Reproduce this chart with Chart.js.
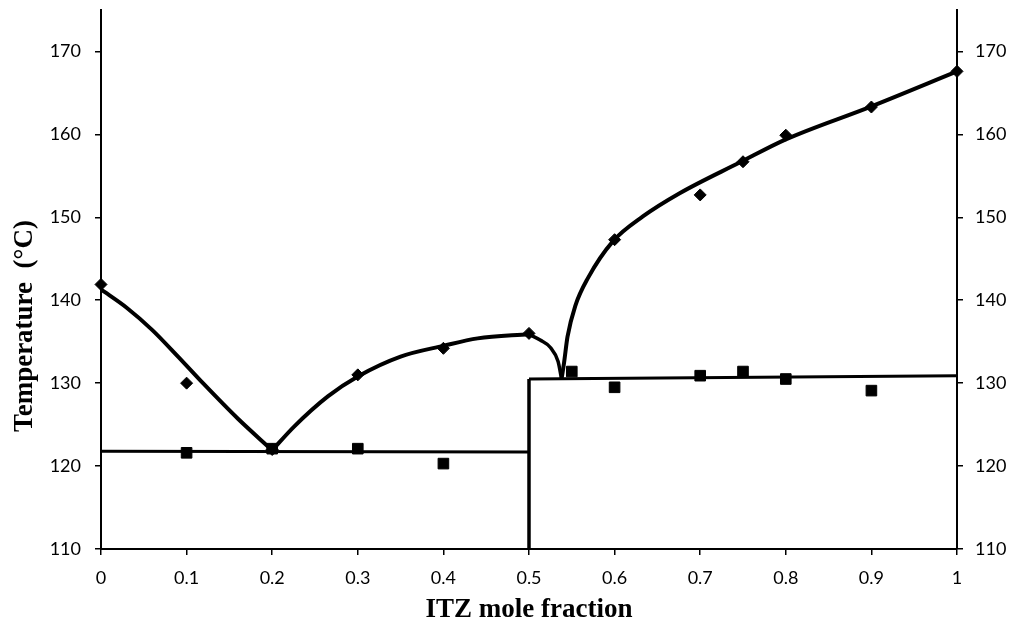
<!DOCTYPE html>
<html>
<head>
<meta charset="utf-8">
<script src="https://cdn.jsdelivr.net/npm/chart.js@4/dist/chart.umd.min.js"></script>
<style>
  html, body { margin: 0; padding: 0; background: #fff; }
  #chart { display: block; }
</style>
</head>
<body>
<canvas id="chart" width="1016" height="626"></canvas>
<script>
// measured points (diamonds = liquidus, squares = solidus)
const liqX = [0, 0.1, 0.2, 0.3, 0.4, 0.5, 0.6, 0.7, 0.75, 0.8, 0.9, 1];
const liqT = [141.9, 130.0, 122.0, 131.0, 134.2, 136.0, 147.3, 152.7, 156.7, 159.9, 163.3, 167.6];

const solX = [0.1, 0.2, 0.3, 0.4, 0.55, 0.6, 0.7, 0.75, 0.8, 0.9];
const solT = [121.6, 122.1, 122.1, 120.3, 131.4, 129.5, 130.9, 131.4, 130.5, 129.1];

// fitted curves
const curveAX = [0, 0.03, 0.06, 0.09, 0.12, 0.16, 0.2];
const curveAT = [141.3, 139.1, 136.4, 133.2, 129.9, 125.7, 121.9];

const curveBX = [0.2, 0.225, 0.265, 0.3, 0.35, 0.4, 0.44, 0.5];
const curveBT = [121.9, 124.7, 128.4, 130.8, 133.2, 134.5, 135.4, 135.9];

const curveCX = [0.5, 0.513, 0.525, 0.534, 0.538];
const curveCT = [135.9, 135.2, 134.3, 132.6, 130.5];

const curveDX = [0.538, 0.541, 0.545, 0.554, 0.569, 0.598, 0.633, 0.676, 0.746, 0.8, 0.898, 1];
const curveDT = [130.5, 132.5, 135.6, 139.3, 142.7, 147.1, 150.1, 152.9, 156.6, 159.4, 163.3, 167.6];

// solidus lines
const solLeftX = [0, 0.5];
const solLeftT = [121.8, 121.7];
const vertX = [0.5, 0.5];
const vertT = [110, 130.5];
const solRightX = [0.5, 1];
const solRightT = [130.5, 130.9];

const yTicks = [110, 120, 130, 140, 150, 160, 170];

function pts(xs, ys) { return xs.map((x, i) => ({ x, y: ys[i] })); }

function curve(xs, ys, w) {
  return {
    type: 'line', data: pts(xs, ys), borderColor: '#000', borderWidth: w,
    pointRadius: 0, cubicInterpolationMode: 'monotone', fill: false, clip: false
  };
}
function straight(xs, ys, w) {
  return {
    type: 'line', data: pts(xs, ys), borderColor: '#000', borderWidth: w,
    pointRadius: 0, tension: 0, fill: false, clip: false
  };
}

// y title drawn by hand so it can sit where the original has it
const yTitle = {
  id: 'yTitle',
  afterDraw(chart) {
    const c = chart.ctx;
    c.save();
    c.translate(25, 326);
    c.rotate(-Math.PI / 2);
    c.font = 'bold 27px "Liberation Serif"';
    c.fillStyle = '#000';
    c.textAlign = 'center';
    c.textBaseline = 'middle';
    c.fillText('Temperature  (°C)', 0, 0);
    c.restore();
  }
};

const tickFont = { family: 'Lato', size: 18 };
const axisCommon = {
  grid: { drawOnChartArea: false, drawTicks: true, tickLength: 6, color: '#000', lineWidth: 1.5 },
  border: { display: true, color: '#000', width: 2 }
};
// no extra room above/below the vertical axes
const yFit = w => s => { s.width = w; s.paddingTop = 0; s.paddingBottom = 0; };

new Chart(document.getElementById('chart'), {
  type: 'scatter',
  data: {
    datasets: [
      curve(curveAX, curveAT, 4),
      curve(curveBX, curveBT, 4),
      curve(curveCX, curveCT, 3.5),
      curve(curveDX, curveDT, 4),
      straight(solLeftX, solLeftT, 3),
      straight(vertX, vertT, 3.5),
      straight(solRightX, solRightT, 3),
      {
        data: pts(liqX, liqT), pointStyle: 'rectRot', pointRadius: 6,
        backgroundColor: '#000', borderColor: '#000', clip: false
      },
      {
        data: pts(solX, solT), pointStyle: 'rect', pointRadius: 7.5,
        backgroundColor: '#000', borderColor: '#000', clip: false
      }
    ]
  },
  options: {
    responsive: false,
    animation: false,
    devicePixelRatio: 1,
    layout: { padding: { top: 10, left: 0, right: 0, bottom: 0 } },
    plugins: { legend: { display: false }, tooltip: { enabled: false } },
    scales: {
      x: {
        type: 'linear', min: 0, max: 1,
        ...axisCommon,
        ticks: {
          stepSize: 0.1, color: '#000', font: tickFont, padding: 12,
          callback: v => String(Number(v.toFixed(2)))
        },
        title: {
          display: true, text: 'ITZ mole fraction', color: '#000',
          font: { family: 'Liberation Serif', size: 27, weight: 'bold' },
          padding: { top: 3, bottom: 0 }
        },
        afterFit: s => { s.height = 77; }
      },
      y: {
        type: 'linear', position: 'left', min: 110, max: 175,
        ...axisCommon,
        ticks: {
          stepSize: 10, includeBounds: false, color: '#000', font: tickFont, padding: 14,
          callback: v => yTicks.includes(v) ? String(v) : null
        },
        afterFit: yFit(101)
      },
      y2: {
        type: 'linear', position: 'right', min: 110, max: 175,
        ...axisCommon,
        ticks: {
          stepSize: 10, includeBounds: false, color: '#000', font: tickFont, padding: 12,
          callback: v => yTicks.includes(v) ? String(v) : null
        },
        afterFit: yFit(59)
      }
    }
  },
  plugins: [yTitle]
});
</script>
</body>
</html>
